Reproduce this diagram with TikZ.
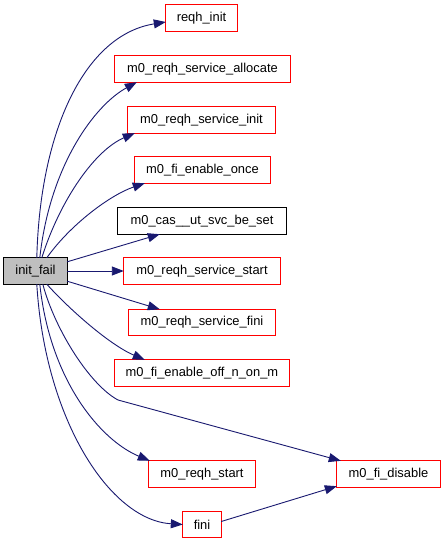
\documentclass[tikz,border=0pt]{standalone}
\usepackage{fontspec}
\setmainfont{Liberation Sans}
\usetikzlibrary{arrows.meta}
\definecolor{edgeblue}{HTML}{191970}
\definecolor{boxred}{HTML}{FF0000}
\definecolor{rootgray}{HTML}{BFBFBF}
\begin{document}
\begin{tikzpicture}[x=1bp,y=-1bp,
  box/.style={draw=none,minimum height=26bp,inner sep=0pt,fill=white,
    font=\fontsize{12.9bp}{15bp}\selectfont},
  root/.style={box,fill=rootgray},
  frame/.style={draw=#1,line width=1.1bp,fill=none},
  edge/.style={draw=edgeblue,line width=0.9bp,-{Triangle[length=12bp,width=9bp]},fill=none}]
\useasboundingbox (0,0) rectangle (445,544);
\fill[white] (0,0) rectangle (445,544);
\node[root,minimum width=63bp] (init) at (35.5,271) {init\_fail};
\node[box,minimum width=71bp] (reqh) at (201.5,18) {reqh\_init};
\node[box,minimum width=175bp] (alloc) at (202.5,69) {m0\_reqh\_service\_allocate};
\node[box,minimum width=147bp] (sinit) at (201.5,120) {m0\_reqh\_service\_init};
\node[box,minimum width=135bp] (once) at (202.5,170) {m0\_fi\_enable\_once};
\node[box,minimum width=168bp] (cas) at (202,221) {m0\_cas\_\_ut\_svc\_be\_set};
\node[box,minimum width=156bp] (sstart) at (202,271) {m0\_reqh\_service\_start};
\node[box,minimum width=146bp] (sfini) at (202,322.5) {m0\_reqh\_service\_fini};
\node[box,minimum width=174bp] (offon) at (202,373) {m0\_fi\_enable\_off\_n\_on\_m};
\node[box,minimum width=106bp] (rstart) at (202,474) {m0\_reqh\_start};
\node[box,minimum width=103bp] (disable) at (388.5,474) {m0\_fi\_disable};
\node[box,minimum width=38bp] (fini) at (202,524.5) {fini};
\coordinate (bend) at (118,400);

\foreach \n in {reqh,alloc,sinit,once,sstart,sfini,offon,rstart,disable,fini}
  \draw[frame=boxred] (\n.north west) rectangle (\n.south east);
\foreach \n in {init,cas}
  \draw[frame=black] (\n.north west) rectangle (\n.south east);

\draw[edge] ([xshift=33bp]init.north west) .. controls (40,130) and (85,35) .. ([yshift=-4bp]reqh.west);
\draw[edge] ([xshift=36bp]init.north west) .. controls (50,165) and (95,105) .. ([xshift=22bp]alloc.south west);
\draw[edge] ([xshift=38bp]init.north west) .. controls (60,200) and (95,150) .. ([xshift=7bp]sinit.south west);
\draw[edge] ([xshift=43bp]init.north west) .. controls (70,225) and (110,195) .. ([xshift=10bp]once.south west);
\draw[edge] ([yshift=-4bp]init.north east) -- ([xshift=42bp]cas.south west);
\draw[edge] (init.east) -- (sstart.west);
\draw[edge] ([yshift=3bp]init.south east) -- ([xshift=31bp]sfini.north west);
\draw[edge] ([xshift=43bp]init.south west) .. controls (70,310) and (110,345) .. ([xshift=30bp]offon.north west);
\draw[edge] ([xshift=39bp]init.south west) .. controls (55,330) and (90,385) .. (bend) -- ([xshift=4bp]disable.north west);
\draw[edge] ([xshift=36bp]init.south west) .. controls (50,380) and (100,440) .. ([xshift=1bp]rstart.north west);
\draw[edge] ([xshift=33bp]init.south west) .. controls (45,420) and (110,520) .. (fini.west);
\draw[edge] ([yshift=3bp]fini.east) -- ([yshift=1bp]disable.south west);
\end{tikzpicture}
\end{document}
